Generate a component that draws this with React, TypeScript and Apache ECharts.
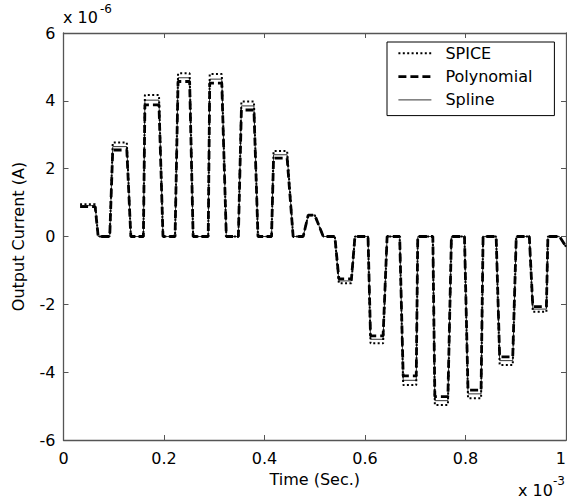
import React, { useEffect, useRef } from "react";
import * as echarts from "echarts";

// time in units of 1e-3 s
const timeMs: number[] = [
  0.033, 0.063, 0.069, 0.092, 0.098, 0.126, 0.134, 0.159, 0.162, 0.19, 0.198,
  0.222, 0.228, 0.251, 0.258, 0.288, 0.291, 0.315, 0.324, 0.348, 0.354, 0.379,
  0.387, 0.414, 0.418, 0.445, 0.457, 0.477, 0.487, 0.5, 0.517, 0.54, 0.548,
  0.573, 0.58, 0.606, 0.611, 0.636, 0.644, 0.669, 0.676, 0.702, 0.705, 0.735,
  0.739, 0.765, 0.772, 0.798, 0.805, 0.831, 0.835, 0.861, 0.868, 0.894, 0.901,
  0.927, 0.934, 0.961, 0.964, 0.987, 1.0,
];
// current in units of 1e-6 A
const spice: number[] = [
  0.95, 0.95, 0, 0, 2.77, 2.77, 0, 0, 4.17, 4.17, 0, 0, 4.81, 4.81, 0, 0, 4.79,
  4.79, 0, 0, 3.98, 3.98, 0, 0, 2.52, 2.52, 0, 0, 0.63, 0.63, 0, 0, -1.38,
  -1.38, 0, 0, -3.15, -3.15, 0, 0, -4.38, -4.38, 0, 0, -4.97, -4.97, 0, 0,
  -4.77, -4.77, 0, 0, -3.79, -3.79, 0, 0, -2.22, -2.22, 0, 0, -0.3,
];
const polynomial: number[] = [
  0.88, 0.88, 0, 0, 2.55, 2.55, 0, 0, 3.88, 3.88, 0, 0, 4.57, 4.57, 0, 0, 4.52,
  4.52, 0, 0, 3.73, 3.73, 0, 0, 2.31, 2.31, 0, 0, 0.63, 0.63, 0, 0, -1.25,
  -1.25, 0, 0, -2.93, -2.93, 0, 0, -4.11, -4.11, 0, 0, -4.72, -4.72, 0, 0,
  -4.53, -4.53, 0, 0, -3.55, -3.55, 0, 0, -2.07, -2.07, 0, 0, -0.3,
];
const spline: number[] = [
  0.91, 0.91, 0, 0, 2.65, 2.65, 0, 0, 4.02, 4.02, 0, 0, 4.68, 4.68, 0, 0, 4.64,
  4.64, 0, 0, 3.85, 3.85, 0, 0, 2.41, 2.41, 0, 0, 0.63, 0.63, 0, 0, -1.31,
  -1.31, 0, 0, -3.03, -3.03, 0, 0, -4.24, -4.24, 0, 0, -4.84, -4.84, 0, 0,
  -4.64, -4.64, 0, 0, -3.66, -3.66, 0, 0, -2.14, -2.14, 0, 0, -0.3,
];
const seriesNames = ["SPICE", "Polynomial", "Spline"];
const xTicks = [0, 0.2, 0.4, 0.6, 0.8, 1];
const yTicks = [-6, -4, -2, 0, 2, 4, 6];

const FONT = "DejaVu Sans";
const AXIS_COLOR = "#555";

export default function App() {
  const ref = useRef<HTMLDivElement>(null);
  useEffect(() => {
    if (!ref.current) return;
    const chart = echarts.init(ref.current, null, { renderer: "svg" });
    const pair = (vals: number[]) => timeMs.map((t, i) => [t, vals[i]]);
    const tickAxisBase = {
      axisLine: { show: true, onZero: false, lineStyle: { color: AXIS_COLOR, width: 1.3 } },
      axisTick: { show: true, inside: true, length: 5, lineStyle: { color: AXIS_COLOR } },
      splitLine: { show: false },
    };
    const styles = [
      { color: "#000", width: 2, type: [2, 2.4] },
      { color: "#000", width: 2.8, type: [8, 4] },
      { color: "#000", width: 0.8, type: "solid" },
    ];
    chart.setOption({
      animation: false,
      backgroundColor: "#fff",
      textStyle: { fontFamily: FONT },
      grid: {
        left: 63.5,
        right: 1,
        top: 33,
        bottom: 62,
        containLabel: false,
        outerBoundsMode: "none",
      },
      xAxis: [
        {
          type: "value",
          min: xTicks[0],
          max: xTicks[xTicks.length - 1],
          interval: 0.2,
          position: "bottom",
          ...tickAxisBase,
          axisLabel: {
            color: "#000",
            fontSize: 16,
            fontFamily: FONT,
            margin: 10,
            alignMaxLabel: "right",
            formatter: (v: number) => String(+v.toFixed(1)),
          },
          name: "Time (Sec.)",
          nameLocation: "middle",
          nameGap: 31,
          nameTextStyle: { color: "#000", fontSize: 16, fontFamily: FONT },
        },
        {
          type: "value",
          min: xTicks[0],
          max: xTicks[xTicks.length - 1],
          interval: 0.2,
          position: "top",
          ...tickAxisBase,
          axisLabel: { show: false },
        },
      ],
      yAxis: [
        {
          type: "value",
          min: yTicks[0],
          max: yTicks[yTicks.length - 1],
          interval: 2,
          position: "left",
          ...tickAxisBase,
          axisLabel: { color: "#000", fontSize: 16, fontFamily: FONT, margin: 8 },
          name: "Output Current (A)",
          nameLocation: "middle",
          nameGap: 37,
          nameTextStyle: { color: "#000", fontSize: 16, fontFamily: FONT },
        },
        {
          type: "value",
          min: yTicks[0],
          max: yTicks[yTicks.length - 1],
          interval: 2,
          position: "right",
          ...tickAxisBase,
          axisLabel: { show: false },
        },
      ],
      legend: {
        left: 387,
        top: 42,
        orient: "vertical",
        data: seriesNames.map((n, i) => ({ name: n, lineStyle: styles[i] })),
        itemWidth: 33,
        itemHeight: 16,
        itemGap: 7.3,
        padding: [3.3, 22, 7.7, 10],
        borderColor: "#000",
        borderWidth: 1,
        backgroundColor: "#fff",
        itemStyle: { opacity: 0 },
        textStyle: { color: "#000", fontSize: 16, fontFamily: FONT, padding: [0, 0, 0, 9] },
      },
      series: seriesNames.map((n, i) => ({
        name: n,
        type: "line",
        data: pair([spice, polynomial, spline][i]),
        symbol: "none",
        lineStyle: styles[i],
        itemStyle: { color: "#000" },
        z: 2 + i,
      })),
      graphic: [
        { type: "text", left: 63, top: 9, style: { text: "x 10", fontSize: 16, fontFamily: FONT, fill: "#000" } },
        { type: "text", left: 100, top: 3, style: { text: "-6", fontSize: 12, fontFamily: FONT, fill: "#000" } },
        { type: "text", left: 518, top: 482, style: { text: "x 10", fontSize: 16, fontFamily: FONT, fill: "#000" } },
        { type: "text", left: 553, top: 475, style: { text: "-3", fontSize: 12, fontFamily: FONT, fill: "#000" } },
      ],
    });
    return () => chart.dispose();
  }, []);
  return (
    <div
      ref={ref}
      style={{ position: "fixed", left: 0, top: 0, width: 567, height: 502, background: "#fff" }}
    />
  );
}
